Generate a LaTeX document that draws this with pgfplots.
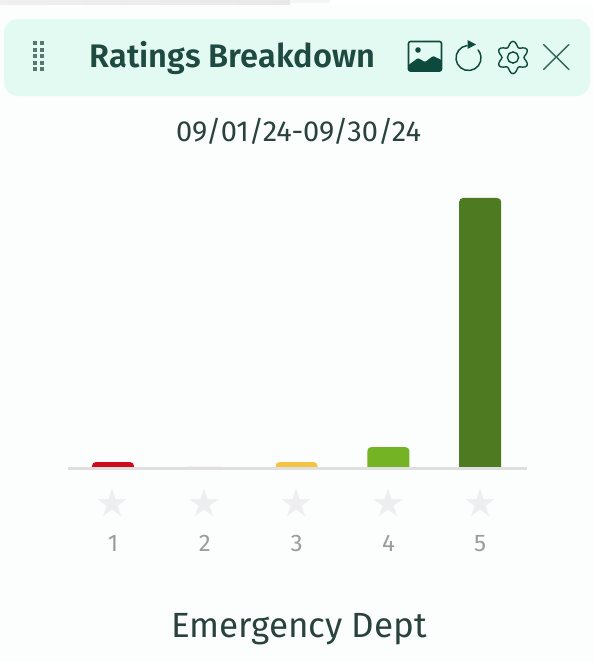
\documentclass[border=0pt]{standalone}
\usepackage{pgfplots}
\usepackage{fontspec}
\pgfplotsset{compat=1.18}
\setmainfont{Fira Sans}
\newfontfamily\titlefont{Fira Sans SemiBold}
\newfontfamily\symfont{DejaVu Sans}
\definecolor{bg}{HTML}{FBFEFD}
\definecolor{head}{HTML}{E3FAF2}
\definecolor{ink}{HTML}{1F4A42}
\definecolor{txt}{HTML}{2A423D}
\definecolor{iconc}{HTML}{0E4A3C}
\definecolor{axisl}{HTML}{DFDFDF}
\definecolor{starc}{HTML}{EEEEF0}
\definecolor{numc}{HTML}{9C9C9C}
\definecolor{b1}{HTML}{CE0A1E}
\definecolor{b2}{HTML}{F8DDD8}
\definecolor{b3}{HTML}{F6C244}
\definecolor{b4}{HTML}{74B324}
\definecolor{b5}{HTML}{4E7A22}
\newcommand{\st}[1]{{\fontsize{38pt}{38pt}\selectfont\symfont\textcolor{starc}{★}}\\[-1pt]#1}
\begin{document}
\begin{tikzpicture}[line cap=round]
\path[use as bounding box] (0,0) rectangle (594pt,-662pt);
\fill[bg] (0,0) rectangle (594pt,-662pt);
\fill[left color=gray!12,right color=gray!18] (0,0) rectangle (290pt,-4pt);
\fill[gray!8] (290pt,0) rectangle (330pt,-3pt);
\fill[white] (330pt,0) rectangle (594pt,-4pt);
\fill[head,rounded corners=14pt] (4pt,-19pt) rectangle (590pt,-96pt);
% drag handle
\foreach \yy in {43,49.5,56,62.5,69}{
  \fill[ink!75] (33pt,-\yy pt+2pt) rectangle (37pt,-\yy pt-2pt);
  \fill[ink!75] (40pt,-\yy pt+2pt) rectangle (44pt,-\yy pt-2pt);
}
% title
\node[text=ink,font=\fontsize{32.6pt}{34pt}\selectfont\titlefont,anchor=center] at (232.5pt,-57.5pt) {Ratings Breakdown};
\node[text=txt,font=\fontsize{29pt}{32pt}\selectfont] at (298.5pt,-131.5pt) {09/01/24-09/30/24};
\node[text=txt,font=\fontsize{35pt}{38pt}\selectfont] at (299pt,-629pt) {Emergency Dept};
% image icon
\draw[iconc,line width=1.6pt,rounded corners=2pt] (408.5pt,-41.5pt) rectangle (441.5pt,-71pt);
\fill[iconc,rounded corners=1pt] (408.5pt,-71pt) -- (408.5pt,-65pt) -- (418pt,-58pt) -- (425pt,-62pt) -- (433pt,-56pt) -- (441.5pt,-60pt) -- (441.5pt,-71pt) -- cycle;
\fill[iconc] (418pt,-50pt) circle (2.8pt);
% refresh icon
\draw[iconc,line width=1.5pt] (467pt,-45.6pt) arc[start angle=97,end angle=400,radius=12.5pt];
\fill[iconc] (476pt,-44.5pt) -- (467.5pt,-40pt) -- (467.5pt,-49pt) -- cycle;
% gear
\draw[iconc,line width=1.4pt,smooth cycle] plot[domain=0:352.5,samples=48] ({(513+(13.6+2.6*cos(6*(\x-90)))*cos(\x))*1pt},{-(57.5+(13.6+2.6*cos(6*(\x-90)))*sin(\x))*1pt});
\draw[iconc,line width=1.4pt] (513pt,-57.5pt) circle (5.6pt);
% close
\draw[iconc!85,line width=1.4pt] (543.5pt,-44.5pt) -- (569pt,-69.5pt) (569pt,-44.5pt) -- (543.5pt,-69.5pt);
\begin{axis}[
  at={(68pt,-467pt)},anchor=origin,
  scale only axis,width=459pt,height=285pt,
  xmin=0.51,xmax=5.51,ymin=0,ymax=57.2,
  axis line style={draw=none},
  ytick=\empty,
  xtick={1,2,3,4,5},
  xticklabels={\st{1},\st{2},\st{3},\st{4},\st{5}},
  xtick style={draw=none},
  xticklabel style={align=center,text=numc,font=\fontsize{24pt}{36pt}\selectfont,yshift=-18.5pt},
  every axis plot/.append style={draw=none,rounded corners=4pt,sharp plot,no markers},
]
\addplot[fill=b1] coordinates {(0.771,-3)(0.771,1)(1.229,1)(1.229,-3)} -- cycle;
\addplot[fill=b2] coordinates {(1.771,-3)(1.771,0.1)(2.229,0.1)(2.229,-3)} -- cycle;
\addplot[fill=b3] coordinates {(2.771,-3)(2.771,1)(3.229,1)(3.229,-3)} -- cycle;
\addplot[fill=b4] coordinates {(3.771,-3)(3.771,4)(4.229,4)(4.229,-3)} -- cycle;
\addplot[fill=b5] coordinates {(4.771,-3)(4.771,54)(5.229,54)(5.229,-3)} -- cycle;
\end{axis}
\draw[axisl,line width=3pt,line cap=butt] (68pt,-468pt) -- (527pt,-468pt);
\end{tikzpicture}
\end{document}
